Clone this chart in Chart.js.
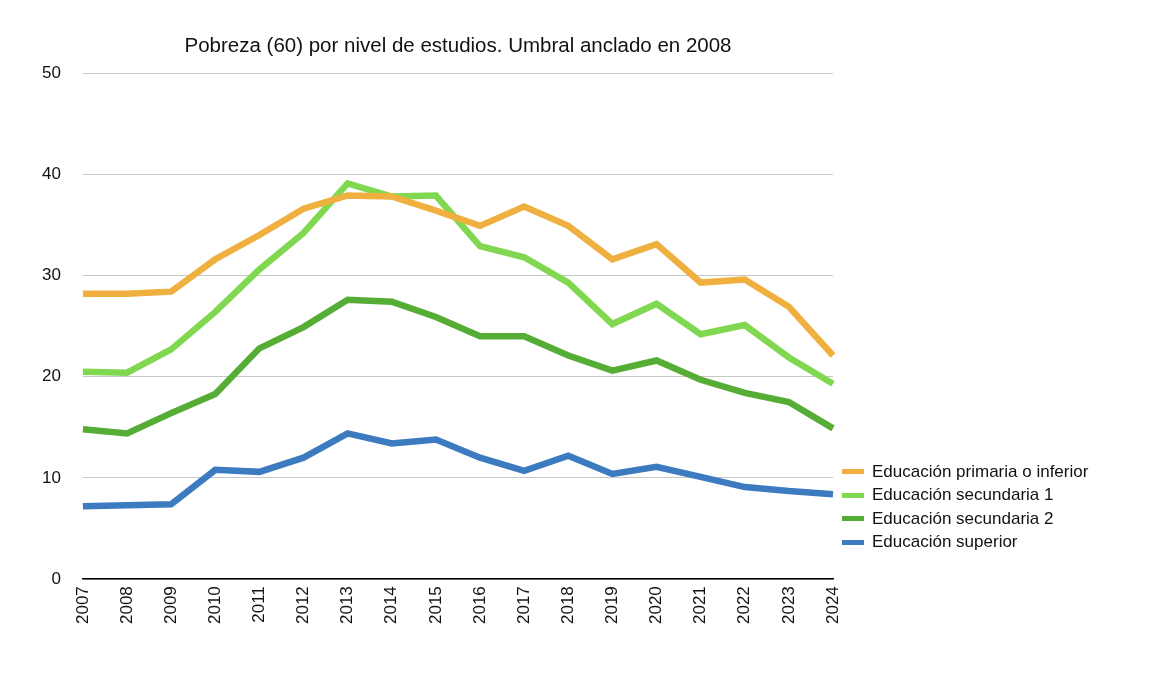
<!DOCTYPE html>
<html><head><meta charset="utf-8">
<script src="https://cdn.jsdelivr.net/npm/chart.js@4/dist/chart.umd.min.js"></script>
<style>
body{margin:0;background:#fff;font-family:"Liberation Sans",Arial,sans-serif}
#wrap{position:relative;width:1156px;height:682px}
#titulo{position:absolute;left:58px;width:800px;top:33px;text-align:center;font-size:20.5px;color:#111}
#legend{position:absolute;left:842px;top:460px;font-size:17px;color:#111}
#legend div{height:23.5px;display:flex;align-items:center}
#legend span{display:inline-block;width:22px;height:5px;margin-right:8px}
</style></head><body>
<div id="wrap"><canvas id="c" width="1156" height="682"></canvas>
<div id="titulo">Pobreza (60) por nivel de estudios. Umbral anclado en 2008</div>
<div id="legend"></div></div>
<script>
var years = ["2007","2008","2009","2010","2011","2012","2013","2014","2015","2016","2017","2018","2019","2020","2021","2022","2023","2024"];
var primaria = [28.2,28.2,28.4,31.6,34.0,36.6,37.9,37.8,36.4,34.9,36.8,34.9,31.6,33.1,29.3,29.6,26.9,22.1];
var secundaria1 = [20.5,20.4,22.7,26.4,30.6,34.2,39.1,37.8,37.9,32.9,31.8,29.3,25.2,27.2,24.2,25.1,21.9,19.3];
var secundaria2 = [14.8,14.4,16.4,18.3,22.8,24.9,27.6,27.4,25.9,24.0,24.0,22.1,20.6,21.6,19.7,18.4,17.5,14.9];
var superior = [7.2,7.3,7.4,10.8,10.6,12.0,14.4,13.4,13.8,12.0,10.7,12.2,10.4,11.1,10.1,9.1,8.7,8.4];
var nombres = ["Educación primaria o inferior","Educación secundaria 1","Educación secundaria 2","Educación superior"];
var colores = ["#f0b040","#80d850","#55ad35","#3c7bc0"];
var series = [primaria, secundaria1, secundaria2, superior];

var datasets = [];
for (var i = 0; i < series.length; i++) {
    datasets.push({label: nombres[i], data: series[i], borderColor: colores[i], backgroundColor: colores[i],
        borderWidth: 6.5, pointRadius: 0, tension: 0, fill: false});
    document.getElementById("legend").innerHTML += '<div><span style="background:' + colores[i] + '"></span>' + nombres[i] + '</div>';
}

new Chart(document.getElementById("c"), {
    type: "line",
    data: {labels: years, datasets: datasets},
    options: {
        responsive: false, animation: false,
        layout: {padding: {left: 20, right: 323, top: 73, bottom: 55}},
        plugins: {legend: {display: false}, title: {display: false}},
        scales: {
            x: {offset: false, grid: {display: false, drawTicks: true, tickLength: 4},
                border: {color: "#000", width: 1.5},
                ticks: {color: "#111", font: {size: 17}, minRotation: 90, maxRotation: 90, autoSkip: false}},
            y: {min: 0, max: 50, grid: {color: "#c8c8c8", drawTicks: false}, border: {display: false},
                ticks: {stepSize: 10, color: "#111", font: {size: 17}, padding: 22}}
        }
    }
});
</script>
</body></html>
